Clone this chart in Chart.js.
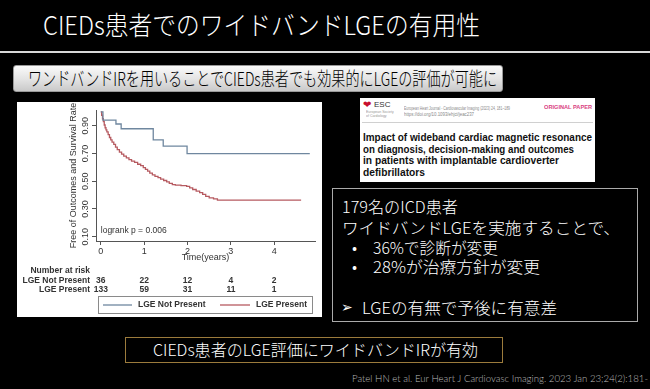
<!DOCTYPE html>
<html>
<head>
<meta charset="utf-8">
<script src="https://cdn.jsdelivr.net/npm/chart.js@4.4.1/dist/chart.umd.min.js"></script>
<style>
body{margin:0;background:#000;width:650px;height:389px;overflow:hidden;position:relative;font-family:"Noto Sans CJK JP",sans-serif;font-weight:300;}
.t{position:absolute;white-space:nowrap;line-height:1;transform-origin:0 50%;}
#panel{position:absolute;left:17px;top:102px;width:305px;height:215px;background:#fff;}
#paper{position:absolute;left:360px;top:98px;width:235px;height:84px;background:#fff;overflow:hidden;}
#paper .t{font-family:"Liberation Sans",Arial,sans-serif;font-weight:normal;}
#box{position:absolute;left:332px;top:188px;width:306px;height:134px;border:1px solid #aaa;box-sizing:border-box;}
#sub{position:absolute;left:13px;top:65px;width:490px;height:27px;border:1px solid #999;border-radius:3px;box-sizing:border-box;background:linear-gradient(#fafafa,#e2e2e2 55%,#c9c9c9);}
#concl{position:absolute;left:125px;top:337px;width:378px;height:26px;border:1.5px solid #9c7b3c;box-sizing:border-box;}
</style>
</head>
<body>
<div class="t" data-w="437" style="left:43px;top:11px;font-size:26px;color:#fff;">CIEDs患者でのワイドバンドLGEの有用性</div>
<div style="position:absolute;left:0;top:51px;width:650px;height:2px;background:#d8d8d8;"></div>
<div id="sub"></div>
<div class="t" data-w="469" style="left:28px;top:68px;font-size:19px;color:#000;">ワンドバンドIRを用いることでCIEDs患者でも効果的にLGEの評価が可能に</div>

<div id="panel"><canvas id="km" width="305" height="215"></canvas></div>

<div id="paper">
  <div class="t" style="left:3px;top:2px;font-size:10px;color:#c8102e;font-family:'DejaVu Sans';">&#10084;</div>
  <div class="t" style="left:14px;top:3px;font-size:8px;color:#333;">ESC</div>
  <div class="t" style="left:6px;top:12px;font-size:7px;color:#999;transform:scale(0.5);transform-origin:0 0;line-height:1.1;">European Society<br>of Cardiology</div>
  <div class="t" data-w="106" style="left:44px;top:7px;font-size:6px;color:#888;">European Heart Journal - Cardiovascular Imaging (2023) 24, 181–189</div>
  <div class="t" data-w="70" style="left:44px;top:13px;font-size:6px;color:#888;">https://doi.org/10.1093/ehjci/jeac237</div>
  <div class="t" data-w="48" style="left:184px;top:6px;font-size:6px;font-weight:bold;color:#d9417f;">ORIGINAL PAPER</div>
  <div style="position:absolute;left:2px;top:24px;width:231px;height:1px;background:#d0d0d0;"></div>
  <div class="t" data-w="229" style="left:3px;top:35px;font-size:10px;font-weight:bold;color:#111;">Impact of wideband cardiac magnetic resonance</div>
  <div class="t" data-w="211" style="left:3px;top:46.7px;font-size:10px;font-weight:bold;color:#111;">on diagnosis, decision-making and outcomes</div>
  <div class="t" data-w="196" style="left:3px;top:58.4px;font-size:10px;font-weight:bold;color:#111;">in patients with implantable cardioverter</div>
  <div class="t" data-w="62" style="left:3px;top:70.1px;font-size:10px;font-weight:bold;color:#111;">defibrillators</div>
</div>

<div id="box"></div>
<div class="t" data-w="116" style="left:342px;top:198px;font-size:16px;color:#fff;">179名のICD患者</div>
<div class="t" data-w="278" style="left:342px;top:219px;font-size:16px;color:#fff;">ワイドバンドLGEを実施することで、</div>
<div class="t" style="left:352px;top:239px;font-size:16px;color:#fff;">•</div>
<div class="t" data-w="125" style="left:373px;top:239px;font-size:16px;color:#fff;">36%で診断が変更</div>
<div class="t" style="left:352px;top:258px;font-size:16px;color:#fff;">•</div>
<div class="t" data-w="167" style="left:373px;top:258px;font-size:16px;color:#fff;">28%が治療方針が変更</div>
<div class="t" style="left:341px;top:300px;font-size:14px;color:#fff;font-family:'DejaVu Sans';">&#10146;</div>
<div class="t" data-w="195" style="left:362px;top:299px;font-size:16px;color:#fff;">LGEの有無で予後に有意差</div>

<div id="concl"></div>
<div class="t" data-w="325" style="left:153px;top:341px;font-size:16px;color:#fff;">CIEDs患者のLGE評価にワイドバンドIRが有効</div>

<div class="t" data-w="296" style="left:352px;top:373px;font-size:10px;color:#bbb;font-family:Lato,sans-serif;">Patel HN et al. Eur Heart J Cardiovasc Imaging. 2023 Jan 23;24(2):181-</div>

<script>
// Kaplan-Meier curves
var seriesNames = ['LGE Not Present', 'LGE Present'];
var notPresentTimes = [0, 0.05, 0.35, 0.47, 1.21, 1.44, 1.99, 4.82];
var notPresentSurv  = [1.0, 0.94, 0.912, 0.878, 0.797, 0.752, 0.698, 0.698];
var presentTimes = [0, 0.02, 0.04, 0.06, 0.08, 0.10, 0.12, 0.14, 0.17, 0.20, 0.23, 0.26, 0.30, 0.34, 0.38,
  0.43, 0.48, 0.53, 0.59, 0.65, 0.71, 0.78, 0.85, 0.92, 0.98, 1.03, 1.08, 1.13, 1.19, 1.25, 1.32, 1.38,
  1.45, 1.52, 1.58, 1.65, 1.72, 1.85, 1.98, 2.05, 2.12, 2.20, 2.28, 2.35, 2.42, 2.50, 2.60, 2.69, 4.62];
var presentSurv = [1.0, 0.975, 0.95, 0.93, 0.905, 0.885, 0.87, 0.855, 0.835, 0.815, 0.797, 0.782, 0.765, 0.745, 0.727,
  0.71, 0.695, 0.68, 0.668, 0.655, 0.645, 0.635, 0.622, 0.612, 0.598, 0.585, 0.572, 0.558, 0.545, 0.535, 0.525, 0.515,
  0.505, 0.495, 0.484, 0.475, 0.472, 0.468, 0.462, 0.452, 0.44, 0.428, 0.418, 0.405, 0.39, 0.38, 0.372, 0.363, 0.363];
var xTicks = [0, 1, 2, 3, 4];
var yTicks = [0.10, 0.30, 0.50, 0.70, 0.90];
var riskTimes = [0, 1, 2, 3, 4];
var riskNotPresent = [36, 22, 12, 4, 2];
var riskPresent = [133, 59, 31, 11, 1];
var logrankText = 'logrank p = 0.006';

var blue = '#6f879f';
var red = '#b65a60';
var chartFont = '"Liberation Sans", Arial, sans-serif';

function toPoints(ts, ss) {
  return ts.map(function (t, i) { return {x: t, y: ss[i]}; });
}

// number at risk table, logrank text and legend box
var extras = {
  id: 'extras',
  afterDraw: function (chart) {
    var ctx = chart.ctx, xs = chart.scales.x, ys = chart.scales.y, a = chart.chartArea;
    ctx.save();
    ctx.fillStyle = '#333';
    ctx.textBaseline = 'middle';
    ctx.font = '8.5px ' + chartFont;
    ctx.textAlign = 'left';
    ctx.fillText(logrankText, xs.getPixelForValue(0), ys.getPixelForValue(0.14));

    ctx.font = 'bold 8.5px ' + chartFont;
    ctx.textAlign = 'right';
    var lx = a.left - 6;
    ctx.fillText('Number at risk', lx, a.bottom + 30);
    ctx.fillText(seriesNames[0], lx, a.bottom + 39.7);
    ctx.fillText(seriesNames[1], lx, a.bottom + 49);
    ctx.textAlign = 'center';
    riskTimes.forEach(function (t, i) {
      var px = xs.getPixelForValue(t);
      ctx.fillText(riskNotPresent[i], px, a.bottom + 39.7);
      ctx.fillText(riskPresent[i], px, a.bottom + 49);
    });

    // legend
    ctx.strokeStyle = '#8a8a8a';
    ctx.lineWidth = 1;
    ctx.strokeRect(a.left + 2.5, a.bottom + 55.5, a.right - a.left - 5, 17);
    var ly = a.bottom + 64;
    ctx.lineWidth = 1.3;
    ctx.strokeStyle = blue;
    ctx.beginPath(); ctx.moveTo(a.left + 7, ly); ctx.lineTo(a.left + 36, ly); ctx.stroke();
    ctx.strokeStyle = red;
    ctx.beginPath(); ctx.moveTo(a.left + 124, ly); ctx.lineTo(a.left + 154, ly); ctx.stroke();
    ctx.textAlign = 'left';
    ctx.fillText(seriesNames[0], a.left + 42, ly);
    ctx.fillText(seriesNames[1], a.left + 160, ly);
    ctx.restore();
  }
};

new Chart(document.getElementById('km'), {
  type: 'line',
  data: {
    datasets: [
      {label: seriesNames[0], data: toPoints(notPresentTimes, notPresentSurv), borderColor: blue, borderWidth: 1.3, stepped: true, pointRadius: 0, fill: false},
      {label: seriesNames[1], data: toPoints(presentTimes, presentSurv), borderColor: red, borderWidth: 1.3, stepped: true, pointRadius: 0, fill: false}
    ]
  },
  options: {
    responsive: false,
    animation: false,
    devicePixelRatio: 1,
    layout: {padding: {top: 8, right: 7, left: 0, bottom: 0}},
    plugins: {legend: {display: false}, tooltip: {enabled: false}},
    scales: {
      x: {
        type: 'linear', min: -0.11, max: 4.94,
        afterBuildTicks: function (s) { s.ticks = xTicks.map(function (v) { return {value: v}; }); },
        afterFit: function (s) { s.height = 76; },
        ticks: {font: {size: 9, family: chartFont}, color: '#333', padding: 1, maxRotation: 0,
          callback: function (v) { return v; }},
        grid: {drawOnChartArea: false, tickLength: 4, color: '#555'},
        border: {color: '#555'},
        title: {display: true, text: 'Time(years)', font: {size: 9, family: chartFont}, color: '#333', padding: {top: 0, bottom: 53.6}}
      },
      y: {
        type: 'linear', min: 0.069, max: 1.013,
        afterBuildTicks: function (s) { s.ticks = yTicks.map(function (v) { return {value: v}; }); },
        afterFit: function (s) { s.width = 79; },
        ticks: {font: {size: 9, family: chartFont}, color: '#333', minRotation: 90, maxRotation: 90, crossAlign: 'center', padding: -2,
          callback: function (v) { return v.toFixed(2); }},
        grid: {drawOnChartArea: false, tickLength: 4, color: '#555'},
        border: {color: '#555'},
        title: {display: true, text: 'Free of Outcomes and Survival Rate', font: {size: 9, family: chartFont}, color: '#333', padding: {top: 51, bottom: 0}}
      }
    }
  },
  plugins: [extras]
});

// squeeze slide text to the widths in the reference
document.querySelectorAll('[data-w]').forEach(function (el) {
  var w = el.getBoundingClientRect().width;
  var target = parseFloat(el.getAttribute('data-w'));
  if (w > 0) el.style.transform = 'scaleX(' + (target / w) + ')';
});
</script>
</body>
</html>
